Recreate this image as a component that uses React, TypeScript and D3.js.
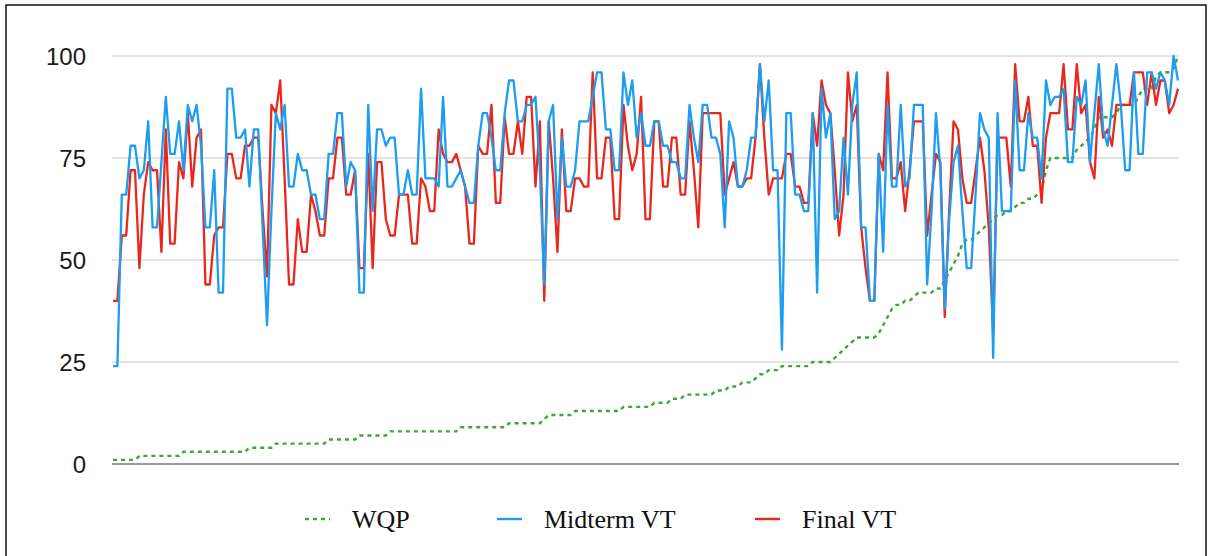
import React from "react";
import * as d3 from "d3";

const W = 1213;
const H = 556;

const yTicks = [0, 25, 50, 75, 100];

const midterm: number[] = [
  24, 24, 66, 66, 78, 78, 70, 72, 84, 58, 58, 74, 90, 76, 76, 84, 72, 88, 84, 88,
  78, 58, 58, 72, 42, 42, 92, 92, 80, 80, 82, 68, 82, 82, 58, 34, 62, 86, 82, 88,
  68, 68, 76, 72, 72, 66, 66, 60, 60, 76, 76, 86, 86, 68, 74, 72, 42, 42, 88, 62,
  82, 82, 78, 80, 80, 66, 66, 72, 66, 66, 92, 70, 70, 70, 68, 90, 68, 68, 70, 72,
  68, 64, 64, 78, 86, 86, 80, 72, 72, 86, 94, 94, 84, 84, 88, 88, 90, 72, 44, 84,
  88, 60, 80, 68, 68, 72, 84, 84, 84, 90, 96, 96, 82, 82, 72, 72, 96, 88, 94, 80,
  86, 78, 78, 84, 84, 78, 78, 74, 74, 70, 70, 88, 80, 74, 88, 88, 80, 80, 76, 58,
  84, 80, 68, 68, 72, 80, 80, 98, 84, 94, 72, 72, 28, 86, 86, 66, 66, 62, 62, 86,
  42, 92, 80, 86, 60, 62, 80, 66, 88, 96, 58, 58, 40, 40, 76, 52, 88, 68, 68, 88,
  68, 70, 88, 88, 88, 44, 62, 86, 72, 38, 60, 74, 78, 62, 48, 48, 66, 86, 82, 80,
  26, 86, 62, 62, 62, 94, 72, 72, 86, 80, 80, 70, 94, 88, 90, 90, 92, 74, 74, 90,
  88, 94, 74, 86, 98, 82, 78, 88, 98, 88, 72, 72, 96, 76, 76, 96, 96, 92, 96, 94,
  88, 100, 94,
];

const finalVT: number[] = [
  40, 40, 56, 56, 72, 72, 48, 66, 74, 72, 72, 52, 82, 54, 54, 74, 70, 86, 68, 80,
  82, 44, 44, 56, 58, 58, 76, 76, 70, 70, 78, 78, 80, 80, 62, 46, 88, 86, 94, 70,
  44, 44, 60, 52, 52, 66, 62, 56, 56, 70, 70, 80, 80, 66, 66, 72, 48, 48, 76, 48,
  74, 74, 60, 56, 56, 66, 66, 66, 54, 54, 70, 68, 62, 62, 82, 76, 74, 74, 76, 72,
  68, 54, 54, 78, 76, 76, 88, 64, 64, 85, 76, 76, 84, 76, 90, 90, 68, 84, 40, 84,
  70, 52, 82, 62, 62, 70, 70, 68, 68, 96, 70, 70, 80, 80, 60, 60, 88, 78, 72, 76,
  90, 60, 60, 84, 84, 68, 68, 80, 80, 66, 66, 84, 72, 58, 86, 86, 86, 86, 86, 66,
  70, 74, 68, 68, 70, 70, 80, 98, 80, 66, 70, 70, 70, 76, 76, 68, 68, 64, 64, 86,
  78, 94, 88, 86, 72, 56, 66, 96, 84, 88, 58, 48, 40, 40, 76, 72, 96, 70, 70, 74,
  62, 72, 84, 84, 84, 56, 66, 76, 74, 36, 62, 84, 82, 70, 64, 64, 72, 80, 72, 58,
  32, 80, 80, 80, 68, 98, 84, 84, 90, 78, 78, 64, 80, 86, 86, 86, 98, 82, 82, 98,
  86, 88, 74, 70, 90, 80, 82, 78, 88, 88, 88, 88, 96, 96, 96, 88, 96, 88, 94, 94,
  86, 88, 92,
];

const wqp: number[] = [
  1, 1, 1, 1, 1, 1, 2, 2, 2, 2, 2, 2, 2, 2, 2, 2, 3, 3, 3, 3,
  3, 3, 3, 3, 3, 3, 3, 3, 3, 3, 3, 4, 4, 4, 4, 4, 4, 5, 5, 5,
  5, 5, 5, 5, 5, 5, 5, 5, 5, 6, 6, 6, 6, 6, 6, 6, 7, 7, 7, 7,
  7, 7, 7, 8, 8, 8, 8, 8, 8, 8, 8, 8, 8, 8, 8, 8, 8, 8, 8, 9,
  9, 9, 9, 9, 9, 9, 9, 9, 9, 9, 10, 10, 10, 10, 10, 10, 10, 10, 11, 12,
  12, 12, 12, 12, 12, 13, 13, 13, 13, 13, 13, 13, 13, 13, 13, 13, 14, 14, 14, 14,
  14, 14, 14, 15, 15, 15, 15, 16, 16, 16, 17, 17, 17, 17, 17, 17, 17, 18, 18, 18,
  19, 19, 19, 20, 20, 20, 21, 22, 22, 23, 23, 23, 24, 24, 24, 24, 24, 24, 24, 25,
  25, 25, 25, 25, 26, 27, 28, 29, 30, 31, 31, 31, 31, 31, 32, 34, 36, 38, 39, 39,
  40, 40, 41, 42, 42, 42, 42, 43, 43, 45, 47, 49, 51, 54, 55, 55, 56, 57, 58, 59,
  60, 61, 61, 62, 62, 63, 64, 64, 65, 65, 66, 67, 72, 75, 75, 75, 75, 75, 75, 77,
  78, 79, 80, 82, 85, 85, 85, 85, 86, 88, 88, 88, 88, 90, 92, 92, 92, 95, 96, 96,
  96, 97, 100,
];

const seriesNames = ["WQP", "Midterm VT", "Final VT"];
const seriesColors = ["#3aa936", "#1c9df2", "#e8281d"];

export default function App() {
  const n = midterm.length;
  const x = d3.scaleLinear().domain([0, n - 1]).range([113, 1178]);
  const y = d3.scaleLinear().domain([0, 100]).range([464, 56]);
  const line = d3
    .line<number>()
    .x((_, i) => x(i))
    .y((d) => y(d));

  const legendItems = [
    { name: seriesNames[0], color: seriesColors[0], lx: 305, tx: 352, dash: "4,4" },
    { name: seriesNames[1], color: seriesColors[1], lx: 497, tx: 544, dash: "" },
    { name: seriesNames[2], color: seriesColors[2], lx: 755, tx: 802, dash: "" },
  ];

  return (
    <svg
      width={W}
      height={H}
      style={{ position: "absolute", left: 0, top: 0, background: "#fff" }}
    >
      <rect x={0} y={0} width={W} height={H} fill="#fff" />
      <rect x={6} y={5} width={1200} height={600} fill="none" stroke="#111" strokeWidth={1.5} />
      {yTicks.map((t) => (
        <g key={t}>
          {t !== 0 && (
            <line x1={112} x2={1179} y1={y(t)} y2={y(t)} stroke="#c9c9c9" strokeWidth={1.2} />
          )}
          <text
            x={86}
            y={y(t)}
            dy="0.36em"
            textAnchor="end"
            fontFamily="Liberation Sans, Arial, sans-serif"
            fontSize={24}
            fill="#1a1a1a"
          >
            {t}
          </text>
        </g>
      ))}
      <line x1={112} x2={1179} y1={y(0)} y2={y(0)} stroke="#9a9a9a" strokeWidth={2} />
      <path
        d={line(wqp) || ""}
        fill="none"
        stroke={seriesColors[0]}
        strokeWidth={2.4}
        strokeDasharray="4,4"
      />
      <path d={line(finalVT) || ""} fill="none" stroke={seriesColors[2]} strokeWidth={2.3} strokeLinejoin="round" />
      <path d={line(midterm) || ""} fill="none" stroke={seriesColors[1]} strokeWidth={2.3} strokeLinejoin="round" />
      {legendItems.map((it) => (
        <g key={it.name}>
          <line
            x1={it.lx}
            x2={it.lx + 25}
            y1={519}
            y2={519}
            stroke={it.color}
            strokeWidth={2.4}
            strokeDasharray={it.dash || undefined}
          />
          <text
            x={it.tx}
            y={519}
            dy="0.35em"
            fontFamily="Liberation Serif, Times New Roman, serif"
            fontSize={26}
            fill="#111"
          >
            {it.name}
          </text>
        </g>
      ))}
    </svg>
  );
}
